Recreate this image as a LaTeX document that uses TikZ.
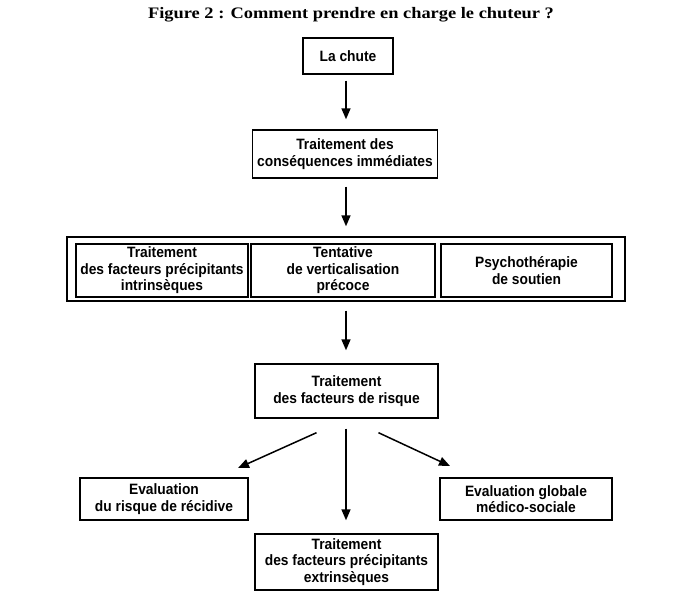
\documentclass[tikz,border=0pt]{standalone}
\usepackage{fontspec}
\usepackage{tikz}
\usetikzlibrary{positioning,arrows.meta}
\setmainfont{Liberation Serif}
\newfontfamily\titrefont[FakeStretch=1.15]{Liberation Serif}
\newfontfamily\boitefont[FakeStretch=0.92]{Liberation Sans}

\tikzset{
    boite/.style = {draw, line width=1.4pt, align=center, inner sep=2pt,
                    font=\boitefont\bfseries\fontsize{15}{16.5}\selectfont},
    fleche/.style = {line width=1.5pt, -{Triangle[length=11pt, width=9pt]}}
}

\begin{document}
\begin{tikzpicture}[x=1pt, y=-1pt]
    \useasboundingbox (0,0) rectangle (696,606);

    \node (titre) at (351,15) {\titrefont\fontsize{16}{18}\selectfont\bfseries Figure 2 : Comment prendre en charge le chuteur ?};

    \node[boite, minimum width=90pt, minimum height=36pt] (chute) at (348,56) {La chute};
    \node[boite, minimum width=185pt, minimum height=48pt] (consequences) at (345,154) {Traitement des\\cons\'equences imm\'ediates};

    % les trois traitements dans le grand cadre
    \node[draw, line width=1.4pt, minimum width=558pt, minimum height=64pt] (cadre) at (346,269) {};
    \node[boite, minimum width=172pt, minimum height=53pt] (intrinseques) at (162,270.5) {Traitement\\des facteurs pr\'ecipitants\\intrins\`eques};
    \node[boite, minimum width=184pt, minimum height=53pt] (verticalisation) at (343,270.5) {Tentative\\de verticalisation\\pr\'ecoce};
    \node[boite, minimum width=171pt, minimum height=53pt] (psycho) at (526.5,270.5) {Psychoth\'erapie\\de soutien};

    \node[boite, minimum width=183pt, minimum height=54pt] (risque) at (346.5,391) {Traitement\\des facteurs de risque};

    \node[boite, minimum width=168pt, minimum height=42pt] (recidive) at (164,499) {Evaluation\\du risque de r\'ecidive};
    \node[boite, minimum width=172pt, minimum height=42pt] (globale) at (526,499) {Evaluation globale\\m\'edico-sociale};
    \node[boite, minimum width=183pt, minimum height=56pt] (extrinseques) at (346.5,562) {Traitement\\des facteurs pr\'ecipitants\\extrins\`eques};

    % fleches
    \draw[fleche, shorten <=6pt, shorten >=10pt] (chute.south -| 346,0) -- (consequences.north -| 346,0);
    \draw[fleche, shorten <=8pt, shorten >=10pt] (consequences.south -| 346,0) -- (cadre.north -| 346,0);
    \draw[fleche, shorten <=9pt, shorten >=13pt] (cadre.south -| 346,0) -- (risque.north -| 346,0);

    \coordinate[below left=14pt and 30pt of risque.south] (gauche);
    \coordinate[below right=14pt and 32pt of risque.south] (droite);
    \coordinate (g2) at (238,468);
    \coordinate (d2) at (450,466);
    \draw[fleche] (gauche) -- (g2);
    \draw[fleche] (droite) -- (d2);
    \draw[fleche, shorten <=10pt, shorten >=13pt] (risque.south -| 346,0) -- (extrinseques.north -| 346,0);
\end{tikzpicture}
\end{document}
